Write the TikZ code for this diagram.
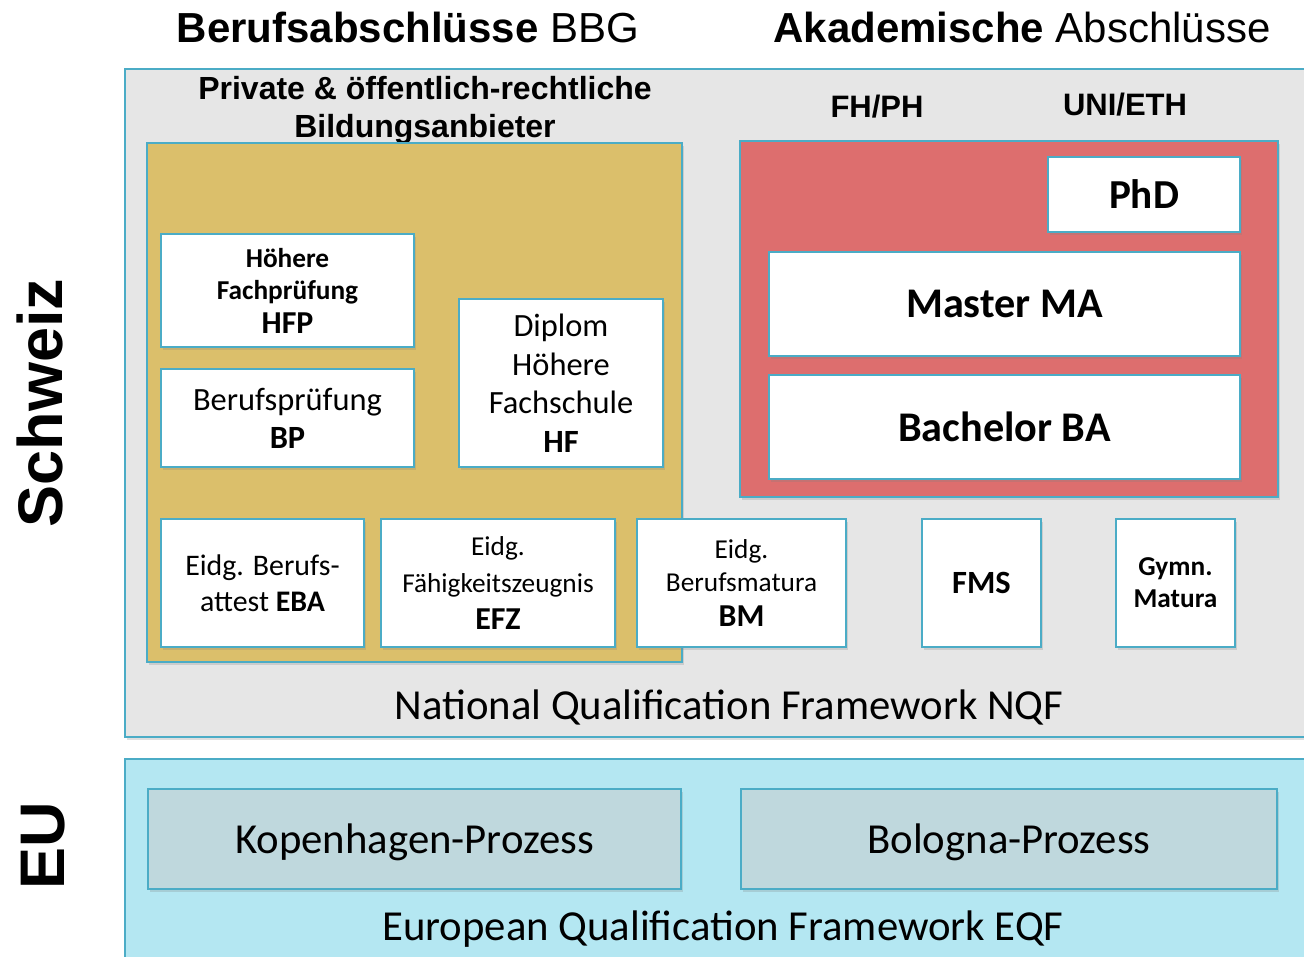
\documentclass[tikz,border=0pt]{standalone}
\usepackage{fontspec}
\setmainfont{Carlito}[Scale=1.03]
\newfontfamily\arialfont{Liberation Sans}
\usetikzlibrary{positioning,shadows}
\definecolor{rahmen}{HTML}{4BACC6}
\definecolor{grau}{HTML}{E6E6E6}
\definecolor{gold}{HTML}{DBBF6B}
\definecolor{rot}{HTML}{DD6E6E}
\definecolor{hellblau}{HTML}{B4E7F2}
\definecolor{prozess}{HTML}{BFD8DD}
\begin{document}
\begin{tikzpicture}[x=1pt, y=-1pt, node distance=20pt,
    box/.style = {draw=rahmen, line width=2pt, rectangle, inner sep=0pt, align=center,
        drop shadow={opacity=0.25, shadow xshift=2pt, shadow yshift=-2.5pt}},
    abschluss/.style = {box, fill=white},
    prozessbox/.style = {box, fill=prozess, minimum height=100, text depth=0pt, font=\fontsize{41.5}{48}\selectfont},
    titel/.style = {font=\arialfont\fontsize{42}{48}\selectfont},
    land/.style = {font=\arialfont\bfseries\fontsize{63}{70}\selectfont, rotate=90},
    kopf/.style = {font=\arialfont\bfseries\fontsize{31}{38}\selectfont, align=center},
    rahmentext/.style = {font=\fontsize{41.5}{48}\selectfont}]
    \useasboundingbox (0,0) rectangle (1304,956);
    % Schweiz
    \node[box, fill=grau, minimum width=1200, minimum height=668] (nqf) at (725,403) {};
    \node[titel] (bbg) at (408,27) {\textbf{Berufsabschlüsse} BBG};
    \node[titel] (aka) at (1022,27) {\textbf{Akademische} Abschlüsse};
    \node[land] (ch) at (40,403) {Schweiz};
    \node[kopf, font=\arialfont\bfseries\fontsize{32}{38}\selectfont] (anb) at (425,110) {Private \& öffentlich-rechtliche\\Bildungsanbieter};
    \node[kopf] (fh) at (877,107) {FH/PH};
    \node[kopf] (uni) at (1125,105) {UNI/ETH};
    % Berufsbildung
    \node[box, fill=gold, minimum width=535, minimum height=519] (bb) at (414.5,402.5) {};
    \node[abschluss, minimum width=253, minimum height=113, font=\bfseries\fontsize{26.5}{32}\selectfont] (hfp) at (287.5,290.5) {Höhere\\Fachprüfung\\[2pt]{\fontsize{31}{35}\selectfont HFP}};
    \node[abschluss, minimum width=253, minimum height=98, font=\fontsize{31.5}{38}\selectfont] (bp) [below=of hfp] {Berufsprüfung\\\textbf{BP}};
    \node[abschluss, minimum width=204, minimum height=168, font=\fontsize{31.5}{38.5}\selectfont] (hf) at (561,383) {Diplom\\Höhere\\Fachschule\\\textbf{HF}};
    \node[abschluss, minimum width=203, minimum height=128, font=\fontsize{29}{36}\selectfont] (eba) at (262.5,583) {Eidg. Berufs-\\attest \textbf{EBA}};
    \node[abschluss, minimum width=234, minimum height=128, font=\fontsize{26.5}{37}\selectfont] (efz) [right=15pt of eba] {Eidg.\\Fähigkeitszeugnis\\{\fontsize{31}{37}\selectfont\bfseries EFZ}};
    \node[abschluss, minimum width=209, minimum height=128, font=\fontsize{26.5}{33}\selectfont] (bm) [right=of efz] {Eidg.\\Berufsmatura\\[2pt]{\fontsize{31}{35}\selectfont\bfseries BM}};
    \node[abschluss, minimum width=119, minimum height=128, font=\bfseries\fontsize{31.5}{38}\selectfont] (fms) at (981.5,583) {FMS};
    \node[abschluss, minimum width=119, minimum height=128, font=\bfseries\fontsize{26.5}{32}\selectfont] (gym) at (1175.5,583) {Gymn.\\Matura};
    % Hochschulen
    \node[box, fill=rot, minimum width=538, minimum height=356] (hs) at (1009,319) {};
    \node[abschluss, minimum width=192, minimum height=75, font=\bfseries\fontsize{40}{46}\selectfont] (phd) at (1144,194.5) {PhD};
    \node[abschluss, minimum width=471, minimum height=104, font=\bfseries\fontsize{41}{46}\selectfont] (ma) at (1004.5,304) {Master MA};
    \node[abschluss, minimum width=471, minimum height=104, font=\bfseries\fontsize{41}{46}\selectfont] (ba) [below=17pt of ma] {Bachelor BA};
    \node[rahmentext] (nqftext) at (729,707) {National Qualification Framework NQF};
    % EU
    \node[box, fill=hellblau, minimum width=1200, minimum height=211] (eqf) at (725,864.5) {};
    \node[land] (eu) at (43,846) {EU};
    \node[prozessbox, minimum width=533] (kop) at (414.5,839) {Kopenhagen-Prozess};
    \node[prozessbox, minimum width=536] (bol) [right=58pt of kop] {Bologna-Prozess};
    \node[rahmentext] (eqftext) at (723,929) {European Qualification Framework EQF};
\end{tikzpicture}
\end{document}
